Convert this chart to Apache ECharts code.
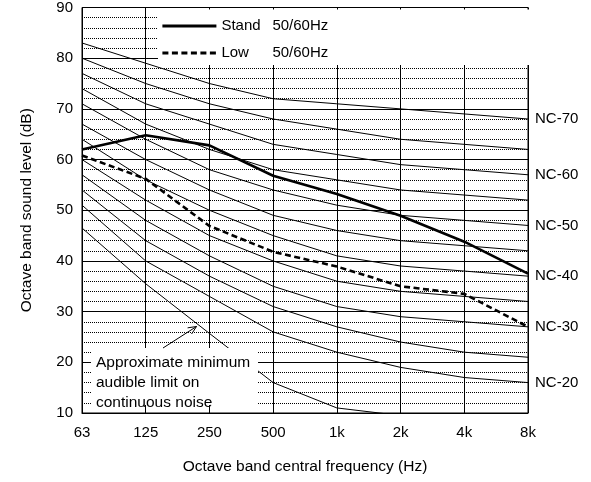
<!DOCTYPE html>
<html>
<head>
<meta charset="utf-8">
<script src="https://cdn.jsdelivr.net/npm/echarts@6/dist/echarts.min.js"></script>
<style>html,body{margin:0;padding:0;background:#fff;}#c{width:591px;height:482px;}</style>
</head>
<body>
<div id="c"></div>
<script>
const categories = ['63', '125', '250', '500', '1k', '2k', '4k', '8k'];
const nc20 = [51, 40, 33, 26, 22, 19, 17, 16];
const nc25 = [54, 44, 37, 31, 27, 24, 22, 21];
const nc30 = [57, 48, 41, 35, 31, 29, 28, 27];
const nc35 = [60, 52, 45, 40, 36, 34, 33, 32];
const nc40 = [64, 56, 50, 45, 41, 39, 38, 37];
const nc45 = [67, 60, 54, 49, 46, 44, 43, 42];
const nc50 = [71, 64, 58, 54, 51, 49, 48, 47];
const nc55 = [74, 67, 62, 58, 56, 54, 53, 52];
const nc60 = [77, 71, 67, 63, 61, 59, 58, 57];
const nc65 = [80, 75, 71, 68, 66, 64, 63, 62];
const nc70 = [83, 79, 75, 72, 71, 70, 69, 68];
const audibleLimit = [46.5, 35.5, 25.7, 16, 11, 9.5, null, null];
const standValues = [62, 64.8, 62.8, 56.8, 53.2, 48.9, 43.8, 37.5];
const lowValues = [60.8, 56.2, 46.9, 41.8, 38.9, 35, 33.5, 27];
const yTicks = {min: 10, max: 90, interval: 10};

const FONT = 'Liberation Sans, Arial, sans-serif';
const ncCurves = [
  ['NC-20', nc20, true], ['NC-25', nc25, false], ['NC-30', nc30, true], ['NC-35', nc35, false],
  ['NC-40', nc40, true], ['NC-45', nc45, false], ['NC-50', nc50, true], ['NC-55', nc55, false],
  ['NC-60', nc60, true], ['NC-65', nc65, false], ['NC-70', nc70, true]
];

const series = ncCurves.map(([name, data, lab]) => ({
  name: name, type: 'line', data: data, symbol: 'none', silent: true,
  lineStyle: {color: '#000', width: 1},
  endLabel: {show: lab, formatter: name, color: '#000', fontSize: 15, fontFamily: FONT, distance: 7}
}));
series.push({
  name: 'audible', type: 'line', data: audibleLimit, symbol: 'none', silent: true,
  lineStyle: {color: '#000', width: 1}
});
series.push({
  name: 'Stand', type: 'line', data: standValues, symbol: 'none', z: 5,
  lineStyle: {color: '#000', width: 2.6}, itemStyle: {color: '#000'}
});
series.push({
  name: 'Low', type: 'line', data: lowValues, symbol: 'none', z: 5,
  lineStyle: {color: '#000', width: 2.6, type: [6, 3.5]}, itemStyle: {color: '#000'}
});

// arrow geometry (annotation)
const tail = [163, 348], tip = [196.5, 326.5];
const dx = tip[0] - tail[0], dy = tip[1] - tail[1];
const L = Math.sqrt(dx * dx + dy * dy), ux = dx / L, uy = dy / L;
const ah = 9, ang = 0.42;
function rot(x, y, a) { return [x * Math.cos(a) - y * Math.sin(a), x * Math.sin(a) + y * Math.cos(a)]; }
const h1 = rot(-ux, -uy, ang), h2 = rot(-ux, -uy, -ang);

const chart = echarts.init(document.getElementById('c'));
chart.setOption({
  animation: false,
  backgroundColor: '#fff',
  textStyle: {fontFamily: FONT},
  grid: {left: 82, right: 63, top: 6, bottom: 69, show: true, borderColor: '#000', borderWidth: 1},
  legend: {
    data: ['Stand', 'Low'], orient: 'vertical', left: 161, top: 18.5, padding: 0, z: 20,
    itemWidth: 54, itemHeight: 14, itemGap: 12, selectedMode: false,
    itemStyle: {opacity: 0},
    lineStyle: {width: 2.8},
    formatter: n => '{a|' + n + '}{b|50/60Hz}',
    textStyle: {color: '#000', fontSize: 15, fontFamily: FONT,
      rich: {a: {width: 51, fontSize: 15, fontFamily: FONT, color: '#000'}, b: {fontSize: 15, fontFamily: FONT, color: '#000'}}}
  },
  xAxis: {
    type: 'category', data: categories, boundaryGap: false,
    axisLine: {show: true, lineStyle: {color: '#000', width: 1}},
    axisTick: {show: false},
    axisLabel: {color: '#000', fontSize: 15, fontFamily: FONT, margin: 12},
    splitLine: {show: true, lineStyle: {color: '#000', width: 1}},
    name: 'Octave band central frequency (Hz)', nameLocation: 'middle', nameGap: 46,
    nameTextStyle: {color: '#000', fontSize: 15.5, fontFamily: FONT}
  },
  yAxis: {
    type: 'value', min: yTicks.min, max: yTicks.max, interval: yTicks.interval,
    axisLine: {show: true, lineStyle: {color: '#000', width: 1}},
    axisTick: {show: false},
    axisLabel: {color: '#000', fontSize: 15, fontFamily: FONT, margin: 9},
    splitLine: {show: true, lineStyle: {color: '#000', width: 1}},
    minorTick: {show: false, splitNumber: 5},
    minorSplitLine: {show: true, lineStyle: {color: '#000', width: 1, type: [1, 1]}},
    name: 'Octave band sound level (dB)', nameLocation: 'middle', nameGap: 47, nameRotate: 90,
    nameTextStyle: {color: '#000', fontSize: 15.5, fontFamily: FONT}
  },
  graphic: [
    {type: 'rect', z: 10, silent: true, shape: {x: 158, y: 9.5, width: 371.5, height: 55.5}, style: {fill: '#fff'}},
    {type: 'rect', z: 10, silent: true, shape: {x: 91, y: 348, width: 167, height: 57}, style: {fill: '#fff'}},
    {type: 'text', z: 11, silent: true, x: 96, y: 362.5, style: {text: 'Approximate minimum', fill: '#000', font: '15.5px ' + FONT, verticalAlign: 'middle'}},
    {type: 'text', z: 11, silent: true, x: 96, y: 382.5, style: {text: 'audible limit on', fill: '#000', font: '15.5px ' + FONT, verticalAlign: 'middle'}},
    {type: 'text', z: 11, silent: true, x: 96, y: 402.5, style: {text: 'continuous noise', fill: '#000', font: '15.5px ' + FONT, verticalAlign: 'middle'}},
    {type: 'line', z: 11, silent: true, shape: {x1: tail[0], y1: tail[1], x2: tip[0], y2: tip[1]}, style: {stroke: '#000', lineWidth: 1}},
    {type: 'polyline', z: 11, silent: true, shape: {points: [[tip[0] + h1[0] * ah, tip[1] + h1[1] * ah], tip, [tip[0] + h2[0] * ah, tip[1] + h2[1] * ah]]}, style: {stroke: '#000', lineWidth: 1, fill: null}}
  ],
  series: series
});
</script>
</body>
</html>
